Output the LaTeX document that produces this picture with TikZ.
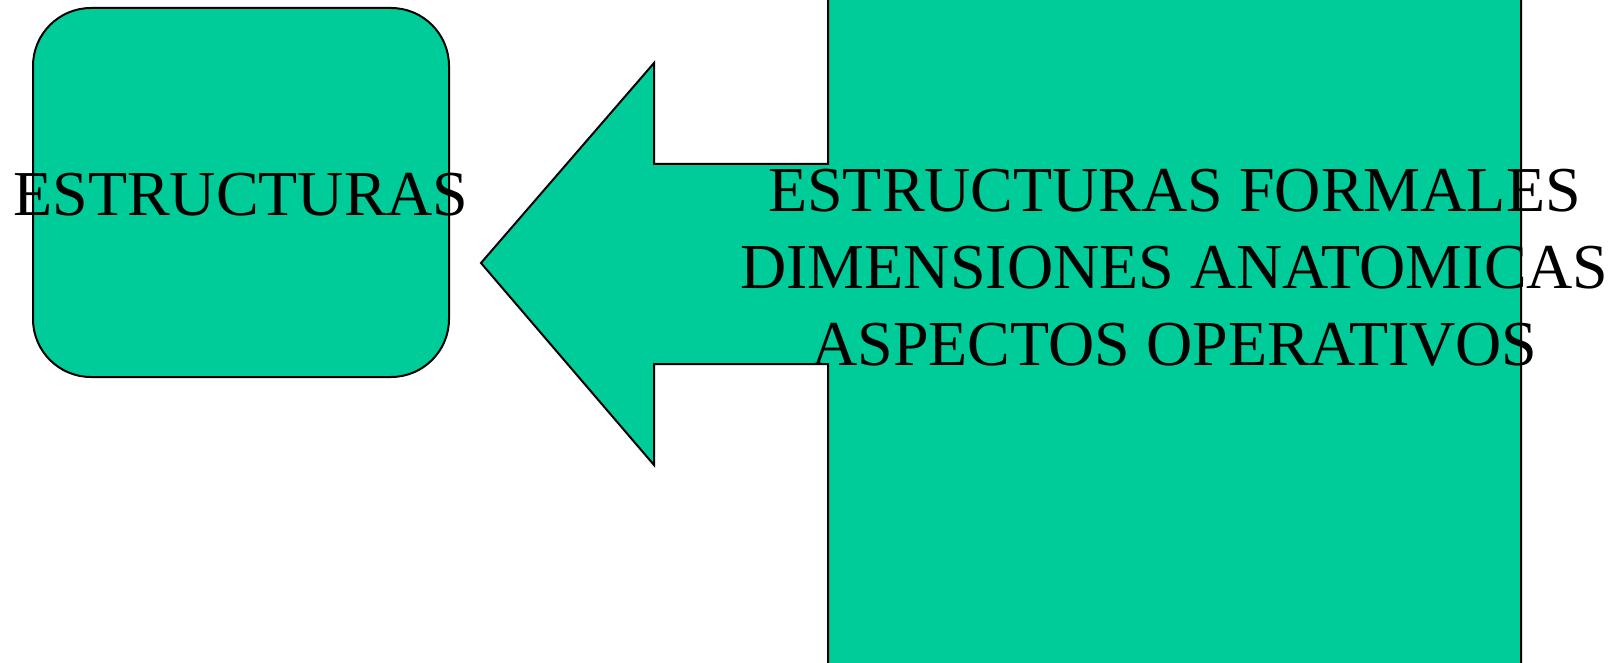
\documentclass[tikz,border=0pt]{standalone}
\usepackage{fontspec}
\setmainfont{Liberation Serif}
\definecolor{fillgreen}{HTML}{00CC99}
\begin{document}
\begin{tikzpicture}[x=1pt,y=-1pt,
  shapeline/.style={draw=black,line width=2pt,fill=fillgreen,line join=miter},
  bigtext/.style={font=\fontsize{64}{77}\selectfont,inner sep=0pt,align=center,text=black},
  roundbox/.style={shapeline,rounded corners=58pt,minimum width=416pt,minimum height=369pt,inner sep=0pt}]
\path[use as bounding box] (0,0) rectangle (1616,663);
\clip (0,0) rectangle (1616,663);
% rounded box on the left
\node[roundbox] (estr) at (241,192.5) {};
\node[bigtext] (estrlbl) at ([yshift=-2pt]estr.center) {ESTRUCTURAS};
% arrow joined to the tall rectangle
\coordinate (tip) at (481,263);
\draw[shapeline] (tip) -- (654,63) -- (654,164) -- (828,164) -- (828,-20)
  -- (1521,-20) -- (1521,683) -- (828,683) -- (828,364) -- (654,364)
  -- (654,465) -- cycle;
\node[bigtext] (lista) at (1174.5,267.5) {ESTRUCTURAS FORMALES\\DIMENSIONES ANATOMICAS\\ASPECTOS OPERATIVOS};
\end{tikzpicture}
\end{document}
